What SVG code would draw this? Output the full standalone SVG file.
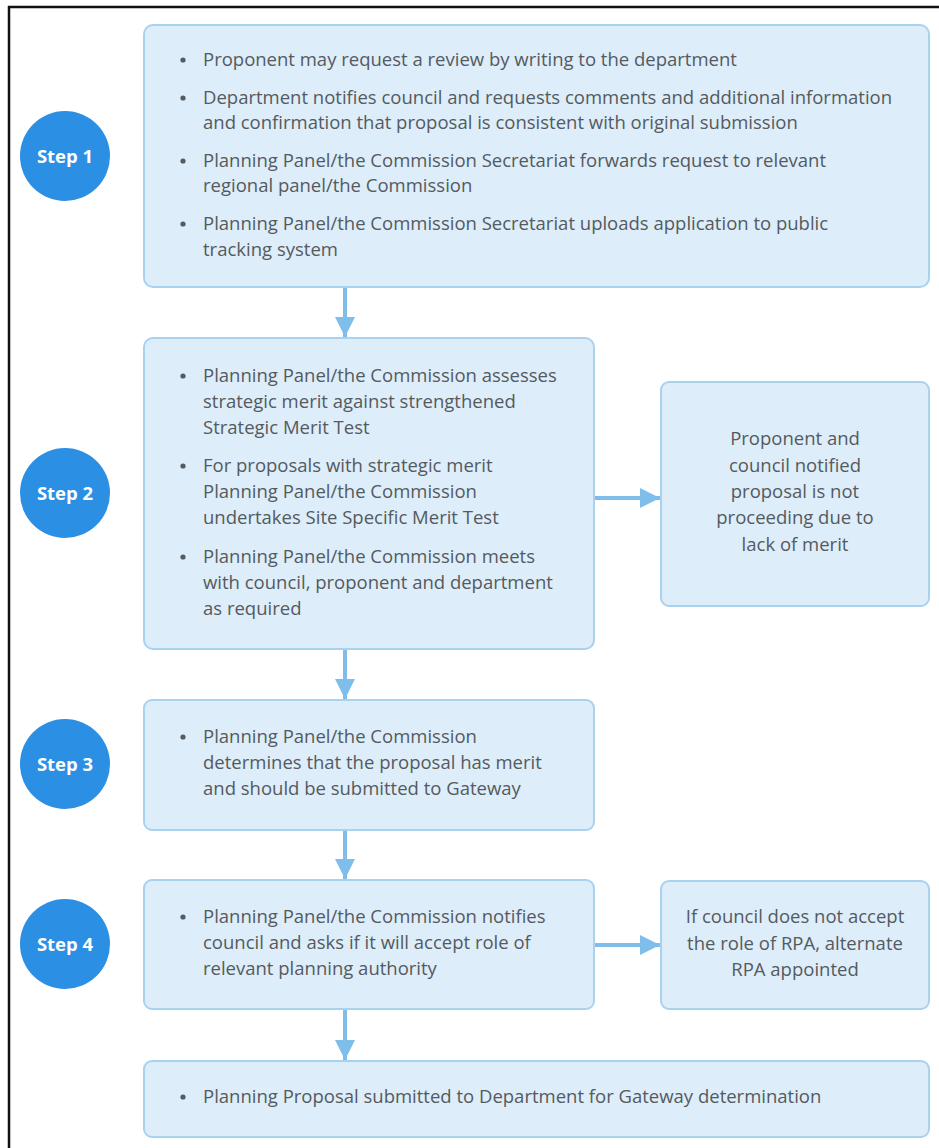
<svg xmlns="http://www.w3.org/2000/svg" width="939" height="1148" viewBox="0 0 939 1148">
<defs>
<style>
.box{fill:#ddedfa;stroke:#a9d1f0;stroke-width:2}
.step{fill:#2b8fe4}
.sl{font-family:"Open Sans",Lato,sans-serif;font-size:18.5px;font-weight:bold;fill:#ffffff;text-anchor:middle}
.t{font-family:"Open Sans",Lato,sans-serif;font-size:18.5px;fill:#555a5e}
.c{text-anchor:middle}
.b{fill:#555a5e}
.conn{stroke:#7fbdeb;stroke-width:4;fill:none}
</style>
<marker id="ah" viewBox="0 0 10 10" refX="10" refY="5" markerWidth="5" markerHeight="5" markerUnits="strokeWidth" orient="auto">
<path d="M0,0 L10,5 L0,10 z" fill="#7fbdeb"/>
</marker>
</defs>
<rect x="0" y="0" width="939" height="1148" fill="#ffffff"/>
<rect x="9" y="7" width="940" height="1150" fill="none" stroke="#111" stroke-width="2.5"/>

<g id="connectors">
<line class="conn" x1="345" y1="288" x2="345" y2="337" marker-end="url(#ah)"/>
<line class="conn" x1="595" y1="498" x2="660" y2="498" marker-end="url(#ah)"/>
<line class="conn" x1="345" y1="650" x2="345" y2="699" marker-end="url(#ah)"/>
<line class="conn" x1="345" y1="831" x2="345" y2="879" marker-end="url(#ah)"/>
<line class="conn" x1="595" y1="945" x2="660" y2="945" marker-end="url(#ah)"/>
<line class="conn" x1="345" y1="1010" x2="345" y2="1060" marker-end="url(#ah)"/>
</g>

<g id="step1">
<circle class="step" cx="65" cy="156" r="45"/>
<text class="sl" x="65" y="163">Step 1</text>
</g>
<g id="step2">
<circle class="step" cx="65" cy="493" r="45"/>
<text class="sl" x="65" y="500">Step 2</text>
</g>
<g id="step3">
<circle class="step" cx="65" cy="764" r="45"/>
<text class="sl" x="65" y="771">Step 3</text>
</g>
<g id="step4">
<circle class="step" cx="65" cy="944" r="45"/>
<text class="sl" x="65" y="951">Step 4</text>
</g>

<g id="box1">
<rect class="box" x="144" y="25" width="785" height="262" rx="9"/>
<circle class="b" cx="183" cy="60" r="2.6"/>
<circle class="b" cx="183" cy="98" r="2.6"/>
<circle class="b" cx="183" cy="161" r="2.6"/>
<circle class="b" cx="183" cy="224" r="2.6"/>
<text class="t" x="203" y="66">Proponent may request a review by writing to the department</text>
<text class="t" x="203" y="104">Department notifies council and requests comments and additional information</text>
<text class="t" x="203" y="129">and confirmation that proposal is consistent with original submission</text>
<text class="t" x="203" y="167">Planning Panel/the Commission Secretariat forwards request to relevant</text>
<text class="t" x="203" y="192">regional panel/the Commission</text>
<text class="t" x="203" y="230">Planning Panel/the Commission Secretariat uploads application to public</text>
<text class="t" x="203" y="256">tracking system</text>
</g>

<g id="box2">
<rect class="box" x="144" y="338" width="450" height="311" rx="9"/>
<circle class="b" cx="183" cy="376" r="2.6"/>
<circle class="b" cx="183" cy="466" r="2.6"/>
<circle class="b" cx="183" cy="557" r="2.6"/>
<text class="t" x="203" y="382">Planning Panel/the Commission assesses</text>
<text class="t" x="203" y="408">strategic merit against strengthened</text>
<text class="t" x="203" y="434">Strategic Merit Test</text>
<text class="t" x="203" y="472">For proposals with strategic merit</text>
<text class="t" x="203" y="498">Planning Panel/the Commission</text>
<text class="t" x="203" y="524">undertakes Site Specific Merit Test</text>
<text class="t" x="203" y="563">Planning Panel/the Commission meets</text>
<text class="t" x="203" y="589">with council, proponent and department</text>
<text class="t" x="203" y="615">as required</text>
</g>

<g id="box2r">
<rect class="box" x="661" y="382" width="268" height="224" rx="8"/>
<text class="t c" x="795" y="445">Proponent and</text>
<text class="t c" x="795" y="472">council notified</text>
<text class="t c" x="795" y="498">proposal is not</text>
<text class="t c" x="795" y="524">proceeding due to</text>
<text class="t c" x="795" y="551">lack of merit</text>
</g>

<g id="box3">
<rect class="box" x="144" y="700" width="450" height="130" rx="8"/>
<circle class="b" cx="183" cy="737" r="2.6"/>
<text class="t" x="203" y="743">Planning Panel/the Commission</text>
<text class="t" x="203" y="769">determines that the proposal has merit</text>
<text class="t" x="203" y="795">and should be submitted to Gateway</text>
</g>

<g id="box4">
<rect class="box" x="144" y="880" width="450" height="129" rx="8"/>
<circle class="b" cx="183" cy="917" r="2.6"/>
<text class="t" x="203" y="923">Planning Panel/the Commission notifies</text>
<text class="t" x="203" y="949">council and asks if it will accept role of</text>
<text class="t" x="203" y="975">relevant planning authority</text>
</g>

<g id="box4r">
<rect class="box" x="661" y="881" width="268" height="128" rx="8"/>
<text class="t c" x="795" y="923">If council does not accept</text>
<text class="t c" x="795" y="950">the role of RPA, alternate</text>
<text class="t c" x="795" y="976">RPA appointed</text>
</g>

<g id="box5">
<rect class="box" x="144" y="1061" width="785" height="76" rx="8"/>
<circle class="b" cx="183" cy="1097" r="2.6"/>
<text class="t" x="203" y="1103">Planning Proposal submitted to Department for Gateway determination</text>
</g>
</svg>
